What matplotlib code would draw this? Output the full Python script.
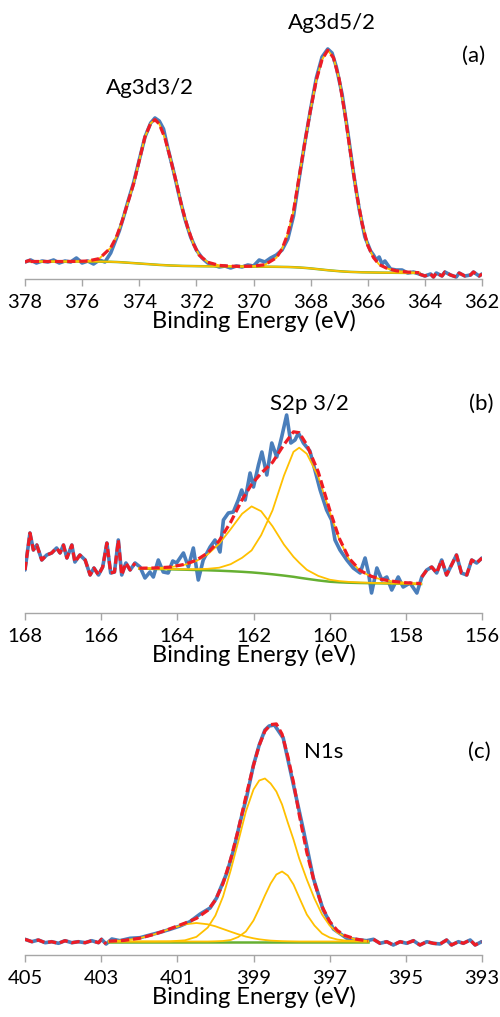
import numpy as np
import matplotlib
matplotlib.use("Agg")
import matplotlib.pyplot as plt

# ---------------- Panel (a): Ag 3d ----------------
a_ticks = [378, 376, 374, 372, 370, 368, 366, 364, 362]
a_meas_E = [378.0, 377.8, 377.6, 377.4, 377.2, 377.0, 376.8, 376.6, 376.4, 376.2, 376.0, 375.8, 375.6, 375.4, 375.2, 375.0,
            374.85, 374.7, 374.55, 374.4, 374.2, 374.0, 373.8, 373.6, 373.45, 373.3, 373.15, 373.0,
            372.8, 372.6, 372.4, 372.2, 372.0, 371.8, 371.6, 371.4, 371.2, 371.0, 370.8, 370.6, 370.4, 370.2, 370.0,
            369.8, 369.6, 369.4, 369.2, 369.0, 368.8, 368.6, 368.4, 368.2, 368.0, 367.8, 367.6, 367.4,
            367.25, 367.1, 366.9, 366.7, 366.5, 366.3, 366.1, 365.9, 365.8, 365.7, 365.6, 365.5, 365.4,
            365.2, 365.0, 364.8, 364.6, 364.4, 364.2, 364.0, 363.8, 363.7, 363.6, 363.4, 363.3, 363.1,
            362.9, 362.8, 362.6, 362.4, 362.3, 362.1, 362.0]
a_meas_I = [17, 19, 16, 18, 17, 19, 16, 18, 17, 21, 16, 18, 15, 19, 17, 26,
            37, 48, 62, 77, 96, 119, 142, 156, 161, 158, 150, 131,
            108, 83, 60, 42, 29, 21, 16, 14, 12, 13, 11, 13, 12, 14, 13,
            19, 17, 21, 24, 29, 40, 63, 101, 137, 170, 201, 222, 230,
            226, 212, 185, 147, 106, 70, 42, 28, 24, 19, 22, 15, 18,
            10, 9, 9, 6, 7, 5, 3, 5, 2, 6, 3, 7, 4,
            2, 6, 3, 4, 7, 3, 5]
a_fit_E = [377.8, 377.4, 377.0, 376.6, 376.2, 375.8, 375.4, 375.0, 374.8, 374.6, 374.4, 374.2, 374.0, 373.8, 373.6,
           373.45, 373.3, 373.1, 372.9, 372.7, 372.5, 372.3, 372.1, 371.9, 371.6, 371.2, 370.8, 370.4, 370.0,
           369.6, 369.2, 369.0, 368.8, 368.6, 368.4, 368.2, 368.0, 367.8, 367.6, 367.4, 367.2, 367.0, 366.8,
           366.6, 366.4, 366.2, 366.0, 365.8, 365.6, 365.3, 365.0, 364.6, 364.2]
a_bg = [17.5, 17.5, 17.5, 17.5, 17.5, 17.5, 17.4, 17.2, 17.0, 16.7, 16.3, 15.9, 15.5, 15.1, 14.7,
        14.4, 14.1, 13.8, 13.5, 13.3, 13.1, 13.0, 12.9, 12.8, 12.7, 12.6, 12.5, 12.5, 12.4,
        12.3, 12.2, 12.1, 12.0, 11.8, 11.5, 11.1, 10.6, 10.0, 9.4, 8.8, 8.3, 7.8, 7.4,
        7.1, 6.9, 6.7, 6.6, 6.5, 6.4, 6.3, 6.2, 6.1, 6.0]
a_peak_3d3 = [0, 0, 0, 0, 0.1, 0.5, 3, 14, 25, 41, 60, 79, 103, 127, 141,
              145, 141, 127, 106, 83, 58, 38, 22, 11, 4, 1, 0.3, 0.1, 0,
              0, 0, 0, 0, 0, 0, 0, 0, 0, 0, 0, 0, 0, 0,
              0, 0, 0, 0, 0, 0, 0, 0, 0, 0]
a_peak_3d5 = [0, 0, 0, 0, 0, 0, 0, 0, 0, 0, 0, 0, 0, 0, 0,
              0, 0, 0, 0, 0, 0, 0, 0, 0, 0, 0, 0, 0, 0.5,
              2, 9, 18, 33, 56, 91, 126, 159, 189, 210, 220, 213, 192, 158,
              118, 80, 49, 27, 15, 8, 4, 2, 0.8, 0.3]

# ---------------- Panel (b): S 2p ----------------
b_ticks = [168, 166, 164, 162, 160, 158, 156]
b_meas_E = [168.0, 167.87, 167.78, 167.69, 167.56, 167.43, 167.3, 167.17, 167.08, 166.99, 166.9, 166.77, 166.69,
            166.56, 166.42, 166.29, 166.19, 166.07, 165.96, 165.85, 165.75, 165.65, 165.55, 165.46, 165.35,
            165.24, 165.11, 164.98, 164.85, 164.72, 164.63, 164.5, 164.37, 164.24, 164.12, 164.02, 163.84,
            163.71, 163.58, 163.45, 163.32, 163.14, 163.01, 162.88, 162.79, 162.66, 162.53, 162.4, 162.31,
            162.22, 162.09, 162.0, 161.87, 161.78, 161.65, 161.52, 161.39, 161.26, 161.13, 161.02, 160.91,
            160.82, 160.69, 160.52, 160.38, 160.25, 160.08, 159.95, 159.86, 159.73, 159.55, 159.38, 159.2,
            159.07, 158.98, 158.9, 158.76, 158.63, 158.5, 158.37, 158.2, 158.07, 157.89, 157.71, 157.58,
            157.45, 157.32, 157.19, 157.06, 156.93, 156.8, 156.67, 156.54, 156.4, 156.27, 156.14, 156.0]
b_meas_I = [43, 80, 63, 68, 53, 58, 60, 65, 60, 68, 55, 68, 51,
            58, 53, 38, 45, 38, 46, 70, 40, 41, 73, 38, 50,
            43, 50, 46, 35, 41, 36, 53, 41, 40, 52, 50, 60,
            46, 65, 33, 53, 66, 73, 61, 93, 100, 101, 113, 123,
            113, 140, 126, 148, 161, 138, 170, 156, 176, 198, 170, 173,
            180, 170, 162, 142, 123, 103, 93, 73, 63, 53, 45, 40,
            55, 40, 20, 45, 33, 36, 23, 36, 26, 30, 20, 36,
            43, 46, 40, 53, 38, 48, 58, 40, 38, 53, 50, 55]
b_fit_E = [165.0, 164.6, 164.2, 163.8, 163.5, 163.2, 162.9, 162.6, 162.3, 162.05, 161.8, 161.5, 161.2,
           160.95, 160.8, 160.6, 160.3, 160.0, 159.75, 159.5, 159.2, 158.9, 158.6, 158.3, 158.0, 157.6]
b_bg = [44.5, 44.1, 43.7, 43.3, 43.0, 42.7, 42.3, 41.8, 41.2, 40.6, 39.8, 38.7, 37.4,
        36.2, 35.3, 34.2, 32.6, 31.3, 30.7, 30.3, 30.0, 29.8, 29.6, 29.4, 29.2, 29.0]
b_peak_1 = [0.3, 0.8, 2, 5, 9, 16, 27, 42, 58, 66, 62, 48, 31,
            20, 15, 9, 4.5, 2, 1.2, 0.8, 0.5, 0.3, 0.2, 0.1, 0.05, 0]
b_peak_2 = [0, 0.1, 0.2, 0.4, 0.8, 1.5, 3, 7, 14, 22, 38, 64, 100,
            125, 130, 125, 104, 70, 43, 24, 12, 6.5, 3.5, 2, 1, 0.4]

# ---------------- Panel (c): N 1s ----------------
c_ticks = [405, 403, 401, 399, 397, 395, 393]
c_meas_E = [405.0, 404.82, 404.65, 404.47, 404.3, 404.12, 403.95, 403.77, 403.6, 403.42, 403.25, 403.07,
            402.99, 402.87, 402.72, 402.51, 402.24, 401.98, 401.72, 401.45, 401.19, 400.93, 400.67, 400.4,
            400.14, 399.97, 399.7, 399.53, 399.35, 399.18, 399.0, 398.85, 398.7, 398.59, 398.45, 398.22,
            397.95, 397.69, 397.43, 397.17, 396.9, 396.55, 396.03, 395.85, 395.68, 395.5, 395.33, 395.15,
            394.98, 394.8, 394.63, 394.45, 394.28, 394.1, 393.93, 393.8, 393.62, 393.49, 393.31, 393.18, 393.01]
c_meas_I = [15.7, 13.3, 15, 12.3, 13.3, 11.7, 14.3, 12.3, 13.3, 12.3, 14.3, 12.3,
            15.7, 11, 16, 14.3, 16.7, 17.3, 20, 22.7, 25.7, 29, 33.3, 41,
            47, 57, 82, 104, 133, 158, 190, 210, 225, 229, 230, 217,
            170, 125, 77, 45, 26, 16.7, 14.3, 15.7, 11.7, 13.3, 10, 13.3,
            11.7, 14.3, 10, 13.3, 11.7, 11, 15, 10, 13.3, 11.7, 15, 10, 13.3]
c_fit_E = [402.8, 402.4, 402.0, 401.6, 401.2, 400.8, 400.5, 400.2, 400.0, 399.8, 399.6, 399.4, 399.2, 399.0,
           398.85, 398.7, 398.55, 398.4, 398.25, 398.1, 397.95, 397.8, 397.6, 397.4, 397.2, 397.0, 396.8,
           396.6, 396.3, 396.0]
c_bg = [13.5, 13.5, 13.5, 13.5, 13.5, 13.5, 13.5, 13.5, 13.5, 13.5, 13.5, 13.5, 13.5, 13.5,
        13.5, 13.5, 13.5, 13.5, 13.5, 13.5, 13.5, 13.5, 13.5, 13.5, 13.5, 13.5, 13.5,
        13.5, 13.5, 13.5]
c_peak_1 = [0, 0, 0, 0, 0.1, 1.2, 4.6, 14, 26, 45, 71, 100, 130, 152,
            161, 163, 158, 150, 137, 119, 102, 83, 62, 43, 27, 16, 9,
            5, 2, 0.5]
c_peak_2 = [0, 0, 0, 0, 0, 0, 0, 0, 0.2, 0.5, 1.5, 4.5, 10, 21,
            33, 46, 58, 67, 70, 66, 57, 44, 27, 16, 8, 4, 2,
            1, 0.3, 0]
c_peak_3 = [0.3, 1.1, 3.2, 7.2, 12.5, 17.2, 18.5, 17.2, 15.2, 12.5, 9.8, 7.2, 4.9, 3.2,
            2.2, 1.5, 0.9, 0.6, 0.35, 0.2, 0.1, 0, 0, 0, 0, 0, 0,
            0, 0, 0]

# ---------------- styling ----------------
BLUE = '#4A7EBB'
RED = '#EE1C25'
GREEN = '#66B032'
YELLOW = '#FFC000'
plt.rcParams['font.family'] = ['Lato', 'DejaVu Sans']

W, H = 500, 1017
fig = plt.figure(figsize=(W / 100, H / 100), dpi=100)


def panel(top_px, bottom_px, ymax):
    ax = fig.add_axes([25 / W, 1 - bottom_px / H, 457 / W, (bottom_px - top_px) / H])
    ax.set_ylim(0, ymax)
    return ax


def style(ax, ticks):
    ax.set_xlim(ticks[0], ticks[-1])
    for s in ['left', 'right', 'top']:
        ax.spines[s].set_visible(False)
    ax.spines['bottom'].set_color('#a6a6a6')
    ax.spines['bottom'].set_linewidth(1.0)
    ax.set_yticks([])
    ax.set_xticks(ticks)
    ax.set_xticklabels([str(t) for t in ticks])
    ax.tick_params(axis='x', direction='out', length=4.8, width=1.0, color='#a6a6a6',
                   labelsize=14.5, pad=6, labelcolor='black')
    ax.set_xlabel('Binding Energy (eV)', fontsize=17, labelpad=-1)
    ax.patch.set_visible(False)


def draw(ax, mE, mI, fE, bg, peaks, fit_range):
    mE = np.asarray(mE); mI = np.asarray(mI)
    fE = np.asarray(fE); bg = np.asarray(bg)
    ax.plot(mE, mI, color=BLUE, lw=2.6, zorder=2, solid_capstyle='round', solid_joinstyle='round')
    ax.plot(fE, bg, color=GREEN, lw=1.8, zorder=3)
    total = bg.copy()
    for p in peaks:
        p = np.asarray(p)
        ax.plot(fE, bg + p, color=YELLOW, lw=1.3, zorder=4)
        total = total + p
    hi, lo = fit_range
    left = mE >= hi
    right = mE <= lo
    red_kw = dict(color=RED, lw=2.3, zorder=5, dashes=(2.6, 1.2))
    ax.plot(mE[left], mI[left], **red_kw)
    ax.plot(fE, total, **red_kw)
    ax.plot(mE[right], mI[right], **red_kw)


axa = panel(15, 279, 264)
draw(axa, a_meas_E, a_meas_I, a_fit_E, a_bg, [a_peak_3d3, a_peak_3d5], (377.8, 364.2))
style(axa, a_ticks)
axa.text(373.62, 191, 'Ag3d3/2', fontsize=16, ha='center', va='center')
axa.text(367.25, 256, 'Ag3d5/2', fontsize=16, ha='center', va='center')
axa.text(362.31, 223, '(a)', fontsize=16, ha='center', va='center')

axb = panel(380, 613, 233)
draw(axb, b_meas_E, b_meas_I, b_fit_E, b_bg, [b_peak_1, b_peak_2], (165.0, 157.6))
style(axb, b_ticks)
axb.text(160.52, 209, 'S2p 3/2', fontsize=16, ha='center', va='center')
axb.text(156.03, 209, '(b)', fontsize=16, ha='center', va='center')

axc = panel(700, 955, 255)
draw(axc, c_meas_E, c_meas_I, c_fit_E, c_bg, [c_peak_1, c_peak_2, c_peak_3], (402.8, 396.0))
style(axc, c_ticks)
axc.text(397.17, 203, 'N1s', fontsize=16, ha='center', va='center')
axc.text(393.08, 203, '(c)', fontsize=16, ha='center', va='center')

fig.savefig('out.png', dpi=100)
